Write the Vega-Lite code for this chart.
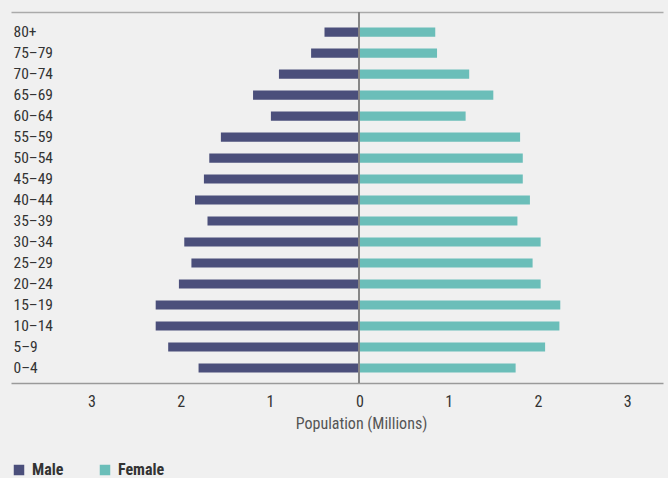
{
  "$schema": "https://vega.github.io/schema/vega-lite/v6.json",
  "width": 652,
  "height": 371,
  "padding": {"left": 11, "top": 11, "right": 5, "bottom": 0},
  "background": "#f0f0f0",
  "config": {
    "view": {"stroke": null},
    "font": "Roboto Condensed, DejaVu Sans Condensed, Roboto"
  },
  "data": {
    "values": [
      {"age": "80+", "sex": "Male", "population": -0.39},
      {"age": "75–79", "sex": "Male", "population": -0.54},
      {"age": "70–74", "sex": "Male", "population": -0.90},
      {"age": "65–69", "sex": "Male", "population": -1.19},
      {"age": "60–64", "sex": "Male", "population": -0.99},
      {"age": "55–59", "sex": "Male", "population": -1.55},
      {"age": "50–54", "sex": "Male", "population": -1.68},
      {"age": "45–49", "sex": "Male", "population": -1.74},
      {"age": "40–44", "sex": "Male", "population": -1.84},
      {"age": "35–39", "sex": "Male", "population": -1.70},
      {"age": "30–34", "sex": "Male", "population": -1.96},
      {"age": "25–29", "sex": "Male", "population": -1.88},
      {"age": "20–24", "sex": "Male", "population": -2.02},
      {"age": "15–19", "sex": "Male", "population": -2.28},
      {"age": "10–14", "sex": "Male", "population": -2.28},
      {"age": "5–9", "sex": "Male", "population": -2.14},
      {"age": "0–4", "sex": "Male", "population": -1.80},
      {"age": "80+", "sex": "Female", "population": 0.85},
      {"age": "75–79", "sex": "Female", "population": 0.87},
      {"age": "70–74", "sex": "Female", "population": 1.23},
      {"age": "65–69", "sex": "Female", "population": 1.50},
      {"age": "60–64", "sex": "Female", "population": 1.19},
      {"age": "55–59", "sex": "Female", "population": 1.80},
      {"age": "50–54", "sex": "Female", "population": 1.83},
      {"age": "45–49", "sex": "Female", "population": 1.83},
      {"age": "40–44", "sex": "Female", "population": 1.91},
      {"age": "35–39", "sex": "Female", "population": 1.77},
      {"age": "30–34", "sex": "Female", "population": 2.03},
      {"age": "25–29", "sex": "Female", "population": 1.94},
      {"age": "20–24", "sex": "Female", "population": 2.03},
      {"age": "15–19", "sex": "Female", "population": 2.25},
      {"age": "10–14", "sex": "Female", "population": 2.24},
      {"age": "5–9", "sex": "Female", "population": 2.08},
      {"age": "0–4", "sex": "Female", "population": 1.75}
    ]
  },
  "resolve": {"axis": {"x": "independent"}},
  "layer": [
    {
      "mark": {"type": "bar"},
      "encoding": {
        "y": {
          "field": "age",
          "type": "nominal",
          "sort": null,
          "scale": {"paddingInner": 0.57, "paddingOuter": 0.62, "align": 0.6},
          "axis": {
            "title": null,
            "domain": false,
            "ticks": false,
            "tickSize": 0,
            "labelAlign": "left",
            "labelPadding": -2,
            "labelFontSize": 15.5,
            "labelColor": "#333333",
            "minExtent": 0,
            "maxExtent": 0
          }
        },
        "x": {
          "field": "population",
          "type": "quantitative",
          "scale": {"domain": [-3.9, 3.4], "nice": false},
          "axis": {
            "title": "Population (Millions)",
            "values": [-3, -2, -1, 0, 1, 2, 3],
            "labelExpr": "abs(datum.value)",
            "grid": false,
            "ticks": false,
            "domainColor": "#9a9a9a",
            "domainWidth": 1.5,
            "labelFontSize": 16,
            "labelColor": "#333333",
            "labelPadding": 10,
            "titleFontSize": 16,
            "titleFontWeight": "normal",
            "titleColor": "#555555",
            "titlePadding": 6,
            "titleX": 350,
            "titleAlign": "center"
          }
        },
        "color": {
          "field": "sex",
          "type": "nominal",
          "scale": {"domain": ["Male", "Female"], "range": ["#4b4f7b", "#6bbeb9"]},
          "legend": {
            "title": null,
            "orient": "none",
            "legendX": 0,
            "legendY": 450,
            "direction": "horizontal",
            "symbolType": "square",
            "symbolSize": 110,
            "symbolStrokeWidth": 0,
            "labelFontSize": 16,
            "labelFontWeight": "bold",
            "labelColor": "#333333",
            "labelOffset": 5,
            "columnPadding": 33
          }
        }
      }
    },
    {
      "mark": {"type": "rule", "color": "#888888", "strokeWidth": 1.2},
      "encoding": {
        "x": {
          "datum": 0,
          "type": "quantitative",
          "axis": {
            "orient": "top",
            "title": null,
            "labels": false,
            "ticks": false,
            "grid": false,
            "domainColor": "#aaaaaa",
            "domainWidth": 1.5
          }
        }
      }
    }
  ]
}
